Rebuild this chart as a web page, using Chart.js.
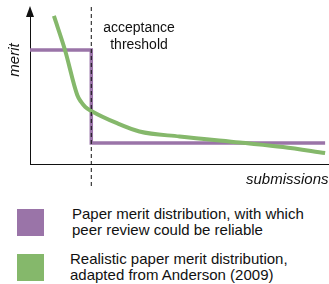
<!DOCTYPE html>
<html>
<head>
<meta charset="utf-8">
<script src="https://cdn.jsdelivr.net/npm/chart.js@4"></script>
<style>
  html, body { margin: 0; padding: 0; background: #fff; }
  body { width: 329px; height: 284px; overflow: hidden; font-family: 'Liberation Sans', Arial, sans-serif; }
  #wrap { position: relative; width: 329px; height: 190px; }
  .leg-row { position: absolute; left: 17px; display: flex; align-items: center; height: 32px; }
  .leg-box { width: 27px; height: 27px; flex: none; }
  .leg-text { font-size: 15px; line-height: 16px; color: #111; }
</style>
</head>
<body>
<div id="wrap"><canvas id="chart"></canvas></div>
<div id="legend"></div>
<script>
/* ── DATA ──────────────────────────────────────────────────── */
/* Idealised distribution: step down at the acceptance threshold */
const idealX = [0, 20.5, 20.5, 98.7];
const idealY = [75, 75, 13.8, 13.8];

/* Realistic long-tail distribution */
const realX = [8, 11.7, 15.8, 17.1, 18.5, 20.5, 28.9, 36.6, 50, 70.1, 84.6, 98.7];
const realY = [97.4, 75, 45.4, 40.8, 37.5, 34.9, 27, 21.4, 18.1, 14.1, 11.2, 7.2];

const threshold = 20.5;

const seriesLabels = [
  ['Paper merit distribution, with which', 'peer review could be reliable'],
  ['Realistic paper merit distribution,', 'adapted from Anderson (2009)'],
];
const seriesColors = ['#9a74a8', '#85b86b'];

/* ── ANNOTATIONS PLUGIN ────────────────────────────────────── */
/* Axis arrow, dashed threshold line and the free text labels */
const annotations = {
  id: 'annotations',
  afterDatasetsDraw(chart) {
    const { ctx, chartArea, scales } = chart;
    const tx = scales.x.getPixelForValue(threshold);
    ctx.save();

    /* dashed threshold line */
    ctx.strokeStyle = '#111';
    ctx.lineWidth = 1;
    ctx.setLineDash([4, 3]);
    ctx.beginPath();
    ctx.moveTo(tx, 7);
    ctx.lineTo(tx, 186);
    ctx.stroke();
    ctx.setLineDash([]);

    /* arrow head on the y axis */
    const ax = chartArea.left;
    ctx.fillStyle = '#111';
    ctx.beginPath();
    ctx.moveTo(ax, chartArea.top - 6);
    ctx.lineTo(ax - 4, chartArea.top + 5);
    ctx.lineTo(ax + 4, chartArea.top + 5);
    ctx.closePath();
    ctx.fill();

    /* text */
    ctx.fillStyle = '#111';
    ctx.font = '14px "Liberation Sans", Arial, sans-serif';
    ctx.textAlign = 'center';
    ctx.textBaseline = 'middle';
    ctx.fillText('acceptance', 139, 28);
    ctx.fillText('threshold', 139, 45);

    ctx.font = 'italic 15px "Liberation Sans", Arial, sans-serif';
    ctx.textAlign = 'left';
    ctx.fillText('submissions', 246, 180);

    ctx.translate(15, 60);
    ctx.rotate(-Math.PI / 2);
    ctx.textAlign = 'center';
    ctx.fillText('merit', 0, 0);
    ctx.restore();
  }
};

/* ── CHART ─────────────────────────────────────────────────── */
new Chart(document.getElementById('chart'), {
  type: 'line',
  data: {
    datasets: [
      {
        label: seriesLabels[0].join(' '),
        data: idealX.map((x, i) => ({ x, y: idealY[i] })),
        borderColor: seriesColors[0],
        borderWidth: 3.5,
        pointRadius: 0,
        tension: 0,
        order: 2,
      },
      {
        label: seriesLabels[1].join(' '),
        data: realX.map((x, i) => ({ x, y: realY[i] })),
        borderColor: seriesColors[1],
        borderWidth: 4,
        pointRadius: 0,
        cubicInterpolationMode: 'monotone',
        order: 1,
      },
    ],
  },
  options: {
    responsive: true,
    maintainAspectRatio: false,
    animation: false,
    layout: { padding: { left: 22, top: 12, right: 0, bottom: 18 } },
    plugins: { legend: { display: false }, tooltip: { enabled: false } },
    scales: {
      x: {
        type: 'linear', min: 0, max: 100,
        grid: { display: false },
        ticks: { display: false },
        border: { color: '#111', width: 1 },
      },
      y: {
        min: 0, max: 100,
        grid: { display: false },
        ticks: { display: false },
        border: { color: '#111', width: 1 },
      },
    },
  },
  plugins: [annotations],
});

/* ── HTML LEGEND ───────────────────────────────────────────── */
/* Row tops chosen so each box sits at the reference position */
const legendTops = [206, 251];
const legendTextLeft = [72, 70];
document.getElementById('legend').innerHTML = seriesLabels.map((lines, i) => `
  <div class="leg-row" style="top:${legendTops[i]}px">
    <div class="leg-box" style="background:${seriesColors[i]}"></div>
    <div class="leg-text" style="margin-left:${legendTextLeft[i] - 44}px">${lines.join('<br>')}</div>
  </div>
`).join('');
</script>
</body>
</html>
